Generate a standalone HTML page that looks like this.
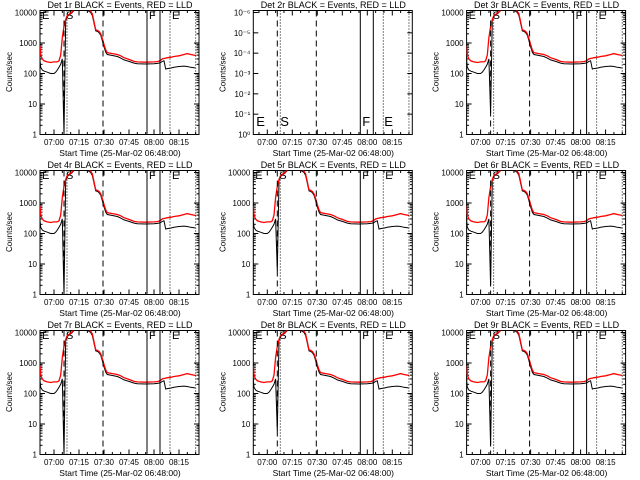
<!DOCTYPE html>
<html><head><meta charset="utf-8"><style>
html,body{margin:0;padding:0;background:#fff;}
svg{display:block;font-family:"Liberation Sans",sans-serif;}
</style></head><body>
<svg id="chart" width="640" height="480" viewBox="0 0 640 480"></svg>
<script>
// time in minutes relative to 07:00
const times = [-8.4,-8,-7,-6,-4,-2,0,1,2,3,4,5,6,7,8,10,12,15,18,20,21,22,23,24,25,26,27,28,29,30,31,32,35,38,40,42,45,48,50,55,60,62,63,64,65,66,67,68,70,72,75,78,80,82,84,85];
const redLLD = [800,400,300,260,240,230,240,240,240,260,400,1500,3500,6000,8000,9500,12000,14000,13000,12500,12000,11000,9000,5000,2700,2600,2400,2000,1400,900,600,480,450,420,380,330,290,250,240,235,240,245,255,270,300,310,320,330,340,360,380,420,450,420,400,390];
const blackEvents = [280,160,130,120,110,100,100,110,130,160,200,300,null,5500,7500,9000,11500,13500,12500,11500,11000,10000,8000,4500,2500,2400,2200,1800,1200,750,500,420,390,360,320,280,250,220,210,205,210,215,220,230,250,260,140,145,150,160,170,175,170,160,155,150];
const spikeMin = [1,null,5,1,6,2,1,6,2];
const detNames = ["1r","2r","3r","4r","5r","6r","7r","8r","9r"];
const xTickLabels = ["07:00","07:15","07:30","07:45","08:00","08:15"];
const xTickMins = [0,15,30,45,60,75];
const yTickLabels = ["1","10","100","1000","10000"];
const dashedMins = [6,29.4];
const solidMins = [55.8,63.6];
const dottedMins = [7.8,69.6,85];
const NS="http://www.w3.org/2000/svg";
const svg=document.getElementById('chart');
function el(t,a,p){const e=document.createElementNS(NS,t);for(const k in a)e.setAttribute(k,a[k]);(p||svg).appendChild(e);return e;}
const L=40,R=199,T=10.5,B=134.5;
for(let i=0;i<9;i++){
  const ox=(i%3)*213.3, oy=Math.floor(i/3)*160;
  const g=el('g',{transform:`translate(${ox.toFixed(1)},${oy})`});
  
  
  const xs=m=>54+m*25/15;
  const ys=v=>B-Math.log10(v)*30.5;
  const t=el('text',{x:120,y:8,'font-size':9,'text-anchor':'middle'},g);
  t.textContent=`Det ${detNames[i]} BLACK = Events, RED = LLD`;
  
  const yt=el('text',{x:12,y:72,'font-size':8,'text-anchor':'middle',transform:'rotate(-90 12 72)'},g);
  yt.textContent='Counts/sec';
  const xt=el('text',{x:120,y:156,'font-size':8.5,'text-anchor':'middle'},g);
  xt.textContent='Start Time (25-Mar-02 06:48:00)';
  const box=el('rect',{x:L,y:T,width:R-L,height:B-T,fill:'none',stroke:'#000','stroke-width':1},g);
  
  xTickMins.forEach((m,j)=>{const x=xs(m);
    el('line',{x1:x,x2:x,y1:B,y2:B-5,stroke:'#000'},g);el('line',{x1:x,x2:x,y1:T,y2:T+5,stroke:'#000'},g);
    const l=el('text',{x:x,y:145,'font-size':8,'text-anchor':'middle'},g);l.textContent=xTickLabels[j];
    });
  for(let m=-5;m<=85;m+=5){if(m%15===0)continue;const x=xs(m);
    el('line',{x1:x,x2:x,y1:B,y2:B-2.5,stroke:'#000'},g);el('line',{x1:x,x2:x,y1:T,y2:T+2.5,stroke:'#000'},g);}
  const clipId='c'+i;
  const cp=el('clipPath',{id:clipId},g);el('rect',{x:L,y:T,width:R-L,height:B-T},cp);
  if(i===1){
    const labs=["10⁰","10⁻¹","10⁻²","10⁻³","10⁻⁴","10⁻⁵","10⁻⁶"];
    labs.forEach((s,j)=>{const y=B-j*(B-T-2)/6;
      el('line',{x1:L,x2:L+5,y1:y,y2:y,stroke:'#000'},g);el('line',{x1:R,x2:R-5,y1:y,y2:y,stroke:'#000'},g);
      const l=el('text',{x:37,y:y+3,'font-size':8,'text-anchor':'end'},g);l.textContent=s;
      });
    [["E",43],["S",67],["F",149],["E",171]].forEach(a=>{const l=el('text',{x:a[1],y:126,'font-size':13},g);l.textContent=a[0];
      });
  } else {
    yTickLabels.forEach((s,j)=>{const y=ys(Math.pow(10,j));
      el('line',{x1:L,x2:L+5,y1:y,y2:y,stroke:'#000'},g);el('line',{x1:R,x2:R-5,y1:y,y2:y,stroke:'#000'},g);
      const l=el('text',{x:37,y:y+3,'font-size':8,'text-anchor':'end'},g);l.textContent=s;
      
      if(j<4)for(let k=2;k<10;k++){const yy=ys(k*Math.pow(10,j));
        el('line',{x1:L,x2:L+2.5,y1:yy,y2:yy,stroke:'#000'},g);el('line',{x1:R,x2:R-2.5,y1:yy,y2:yy,stroke:'#000'},g);}
    });
    const cg=el('g',{'clip-path':`url(#${clipId})`},g);
    [["E",42],["S",66],["F",149],["E",172]].forEach(a=>{const l=el('text',{x:a[1],y:19,'font-size':11},cg);l.textContent=a[0];
      });
    const bp=blackEvents.map((v,k)=>xs(times[k]).toFixed(1)+','+ys(v===null?spikeMin[i]:v).toFixed(1)).join(' ');
    const bl=el('polyline',{points:bp,fill:'none',stroke:'#000','stroke-width':1},cg);
    
    const rp=redLLD.map((v,k)=>xs(times[k]).toFixed(1)+','+ys(v).toFixed(1)).join(' ');
    const rl=el('polyline',{points:rp,fill:'none',stroke:'#f00','stroke-width':1.3},cg);
    
  }
  dashedMins.forEach(m=>{const l=el('line',{x1:xs(m),x2:xs(m),y1:T,y2:B,stroke:'#000','stroke-dasharray':'6,4'},g);
    });
  solidMins.forEach(m=>{const l=el('line',{x1:xs(m),x2:xs(m),y1:T,y2:B,stroke:'#000'},g);
    });
  dottedMins.forEach(m=>{const l=el('line',{x1:xs(m),x2:xs(m),y1:T,y2:B,stroke:'#000','stroke-dasharray':'1,2'},g);
    });
}
</script>
</body></html>
